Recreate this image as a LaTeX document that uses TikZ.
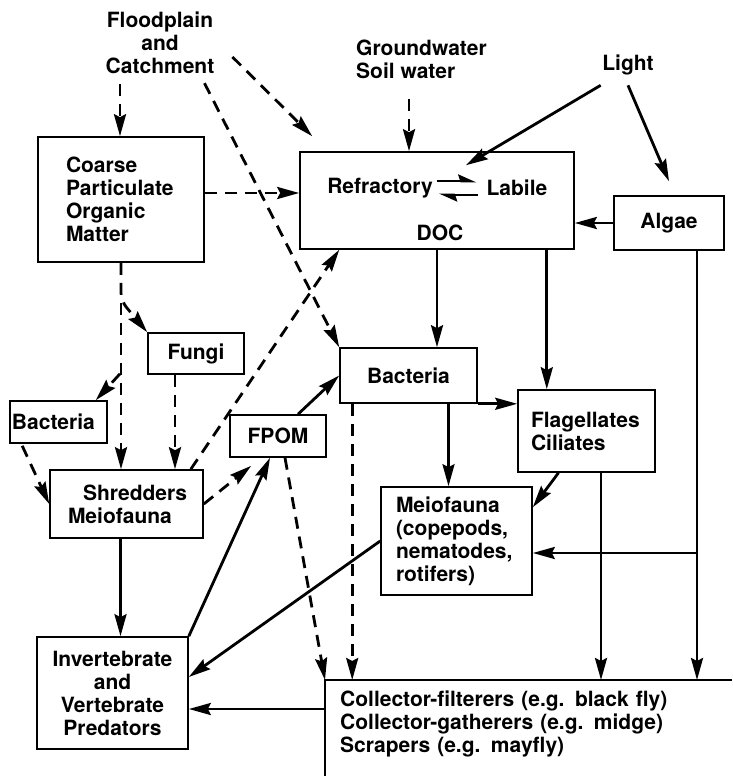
\documentclass[tikz,border=0pt]{standalone}
\usepackage{fontspec}
\setmainfont{TeX Gyre Heros}
\usetikzlibrary{arrows.meta}

\begin{document}
\begin{tikzpicture}[x=1pt, y=-1pt,
    font=\fontsize{21}{23}\selectfont\bfseries,
    box/.style={draw, line width=1.6pt, inner sep=0pt},
    txt/.style={inner sep=0pt},
    flow/.style={line width=2.8pt, -{Stealth[length=22pt, width=12pt, inset=3pt]}},
    dflow/.style={flow, dash pattern=on 12pt off 8pt},
    harp/.style={line width=2.8pt, -{Stealth[harpoon, length=15pt, width=13pt, inset=2pt]}}]
    \useasboundingbox (0,0) rectangle (732,776);

    % Sources
    \node[txt, align=center] (flood) at (160,43) {Floodplain\\and\\Catchment};
    \node[txt, align=left, anchor=west] (ground) at (356,59) {Groundwater\\Soil water};
    \node[txt] (light) at (628,65) {Light};

    % DOC pool
    \node[box, minimum width=274, minimum height=97] (doc) at (437,200.5) {};
    \node[txt] (refr) at (380,188) {Refractory};
    \node[txt] (lab) at (517,188) {Labile};
    \node[txt] (doctxt) at (440,233) {DOC};
    \draw[harp] ([shift={(4,-7)}]refr.east) -- ([shift={(-10,-7)}]lab.west);
    \draw[harp] ([shift={(-8,7)}]lab.west) -- ([shift={(6,7)}]refr.east);

    % Boxes
    \node[box, minimum width=166, minimum height=125, text width=110, inner xsep=28, align=left] (cpom) at (121,199.5) {Coarse\\Particulate\\Organic\\Matter};
    \node[box, minimum width=110, minimum height=54] (algae) at (669,223) {Algae};
    \node[box, minimum width=96, minimum height=41] (fungi) at (196,353.5) {Fungi};
    \node[box, minimum width=97, minimum height=42, text width=93, inner xsep=2, align=left] (bactl) at (58.5,422) {Bacteria};
    \node[box, minimum width=137, minimum height=55] (bactm) at (408.5,375.5) {Bacteria};
    \node[box, minimum width=96, minimum height=42] (fpom) at (278,436) {FPOM};
    \node[box, minimum width=137, minimum height=82, text width=111, inner xsep=13, align=left] (flag) at (586.5,431) {Flagellates\\Ciliates};
    \node[box, minimum width=153, minimum height=68, text width=127, inner xsep=13, align=left] (shred) at (126.5,504) {\hspace*{20pt}Shredders\\\hspace*{5pt}Meiofauna};
    \node[box, minimum width=151, minimum height=108, text width=121, inner xsep=15, align=left] (meio) at (456.5,541) {Meiofauna\\(copepods,\\nematodes,\\rotifers)};
    \node[box, minimum width=151, minimum height=112, text width=131, inner xsep=10, align=center] (pred) at (112.5,693) {Invertebrate\\and\\Vertebrate\\Predators};
    \node[txt, anchor=north west, minimum width=407, minimum height=88, text width=377, inner xsep=15, align=left] (coll) at (325,680) {Collector-filterers (e.g. black fly)\\Collector-gatherers (e.g. midge)\\Scrapers (e.g. mayfly)};
    \draw[line width=1.6pt] ([shift={(0,8)}]coll.south west) -- (coll.north west) -- (coll.north east);

    % Inputs
    \draw[dflow] ([shift={(-1,0)}]cpom.north |- flood.south) ++(0,10) -- ([shift={(-1,0)}]cpom.north);
    \draw[dflow] ([shift={(18,14)}]flood.east) -- ([shift={(13,-15)}]doc.north west);
    \draw[dflow] ([shift={(-10,9)}]flood.south east) -- (bactm.north west);
    \draw[dflow] ([shift={(-28,-52)}]doc.north) -- ([shift={(-28,0)}]doc.north);
    \draw[flow] ([shift={(-1.5,10)}]light.south west) -- ([shift={(29,14)}]doc.north);
    \draw[flow] ([shift={(0,10)}]light.south) -- ([shift={(0,-14)}]algae.north);
    \draw[flow] (algae.west) -- (algae.west -| doc.east);

    % Coarse material pathway
    \draw[dflow] (cpom.east |- 0,193) -- (doc.west |- 0,193);
    \draw[dflow] (cpom.south) -- (cpom.south |- shred.north);
    \draw[dflow, rounded corners=8pt] (cpom.south) -- ++(0,38) -- (fungi.north west);
    \coordinate (cbr) at ([shift={(-1,111)}]cpom.south);
    \draw[dflow] (cbr) -- ([shift={(-12,0)}]bactl.north east);
    \draw[dflow] ([shift={(-21,0)}]fungi.south) -- ([shift={(-21,0)}]fungi.south |- shred.north);
    \draw[dflow] ([shift={(13,2)}]bactl.south west) -- (shred.west);
    \draw[dflow] ([shift={(-13,0)}]shred.north east) -- ([shift={(40,0)}]doc.south west);
    \draw[dflow] (shred.east) -- ([shift={(22,8)}]fpom.south west);
    \draw[flow] ([shift={(-6,0)}]shred.south) -- ([shift={(-6,0)}]shred.south |- pred.north);

    % Microbial loop
    \draw[flow] (doc.south) -- (doc.south |- bactm.north);
    \draw[flow] ([shift={(-28,0)}]doc.south east) -- ([shift={(-28,0)}]doc.south east |- flag.north);
    \draw[flow] (bactm.south east) -- (bactm.south east -| flag.west);
    \draw[flow] ([shift={(40,0)}]bactm.south) -- ([shift={(40,0)}]bactm.south |- meio.north);
    \draw[flow] ([shift={(-28,0)}]flag.south) -- ([shift={(0,21)}]meio.north east);
    \draw[flow] ([shift={(20,0)}]fpom.north) -- (bactm.west);

    % To consumers
    \draw[dflow] ([shift={(13,0)}]bactm.south west) -- ([shift={(13,0)}]bactm.south west |- coll.north);
    \draw[dflow] ([shift={(7,0)}]fpom.south) -- (coll.north west);
    \draw[flow] ([shift={(14.5,0)}]flag.south) -- ([shift={(14.5,0)}]flag.south |- coll.north);
    \draw[flow] ([shift={(28,0)}]algae.south) -- ([shift={(28,0)}]algae.south |- coll.north);
    \coordinate (junc) at (697,553);
    \draw[flow] (junc) -- (junc -| meio.east);

    % Predators
    \draw[flow] (meio.west) -- ([shift={(0,-16)}]pred.east);
    \draw[flow] ([shift={(0,29)}]coll.north west) -- ([shift={(0,29)}]coll.north west -| pred.east);
    \draw[flow] (pred.north east) -- ([shift={(-8,0)}]fpom.south);
\end{tikzpicture}
\end{document}
